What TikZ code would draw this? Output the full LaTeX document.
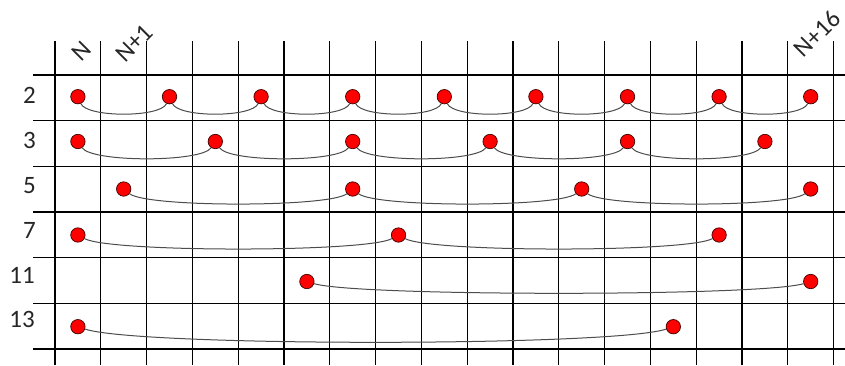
\documentclass[tikz,border=0pt]{standalone}
\usepackage{fontspec}
\setmainfont{Carlito}
\begin{document}
\begin{tikzpicture}[x=1pt,y=-1pt,
  gridline/.style={line width=1.1pt,black},
  dot/.style={circle,fill=red,draw=black!75!red,line width=0.7pt,inner sep=0pt,minimum size=14.4pt},
  link/.style={draw=black!70,line width=1pt},
  rowlab/.style={anchor=east,inner sep=0pt,font=\fontsize{25}{30}\selectfont,text=black!85},
  collab/.style={anchor=center,inner sep=0pt,rotate=45,font=\fontsize{25}{30}\selectfont,text=black!85}]
\useasboundingbox (0,0) rectangle (845,365);
% grid
\foreach \k in {0,...,17} \draw[gridline] ({55+45.8*\k},41) -- ({55+45.8*\k},365);
\foreach \k in {0,...,6} \draw[gridline] (33,{75+45.67*\k}) -- (845,{75+45.67*\k});
% column labels
\node[collab] (cN) at (82,51) {N};
\node[collab] (cN1) at (134,43) {N+1};
\node[collab] (cN16) at (817,34) {N+16};
% row labels
\node[rowlab] (l2) at (36,95.8) {2};
\node[rowlab] (l3) at (36,140.5) {3};
\node[rowlab] (l5) at (36,186) {5};
\node[rowlab] (l7) at (36,230.7) {7};
\node[rowlab] (l11) at (35,275) {11};
\node[rowlab] (l13) at (35,319) {13};
% row 2
\foreach \c [count=\i] in {0,2,...,16} \node[dot] (a\i) at ({55+45.8*(\c+0.5)},96.7) {};
\foreach \i [evaluate=\i as \j using int(\i+1)] in {1,...,8}
  \draw[link] (a\i) .. controls +(9,21) and +(-9,21) .. (a\j);
% row 3
\foreach \c [count=\i] in {0,3,...,15} \node[dot] (b\i) at ({55+45.8*(\c+0.5)},141.5) {};
\foreach \i [evaluate=\i as \j using int(\i+1)] in {1,...,5}
  \draw[link] (b\i) .. controls +(14,21) and +(-14,21) .. (b\j);
% row 5
\foreach \c [count=\i] in {1,6,11,16} \node[dot] (c\i) at ({55+45.8*(\c+0.5)},189) {};
\foreach \i [evaluate=\i as \j using int(\i+1)] in {1,...,3}
  \draw[link] (c\i) .. controls +(23,18.5) and +(-23,18.5) .. (c\j);
% row 7
\foreach \c [count=\i] in {0,7,14} \node[dot] (d\i) at ({55+45.8*(\c+0.5)},235) {};
\foreach \i [evaluate=\i as \j using int(\i+1)] in {1,2}
  \draw[link] (d\i) .. controls +(32,17.5) and +(-32,17.5) .. (d\j);
% row 11
\node[dot] (e1) at ({55+45.8*5.5},281.5) {};
\node[dot] (e2) at ({55+45.8*16.5},281.5) {};
\draw[link] (e1) .. controls +(50,15) and +(-50,15) .. (e2);
% row 13
\node[dot] (f1) at ({55+45.8*0.5},326.7) {};
\node[dot] (f2) at ({55+45.8*13.5},326.7) {};
\draw[link] (f1) .. controls +(60,20) and +(-60,20) .. (f2);
\end{tikzpicture}
\end{document}
